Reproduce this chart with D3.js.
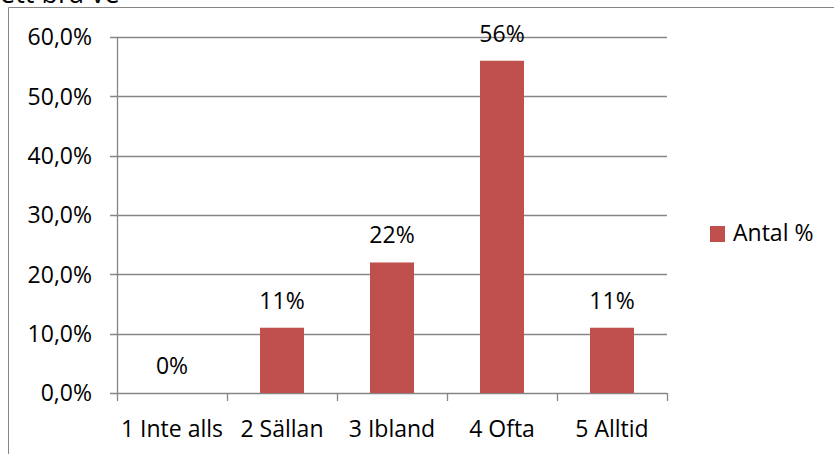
<!DOCTYPE html>
<html>
<head>
<meta charset="utf-8">
<script src="https://cdn.jsdelivr.net/npm/d3@7"></script>
<style>
  html, body { margin: 0; padding: 0; background: #fff; }
  svg { display: block; font-family: "Open Sans", sans-serif; }
</style>
</head>
<body>
<svg id="chart" width="834" height="454"></svg>
<script>
// Response categories and share of answers
const categories = ["1 Inte alls", "2 Sällan", "3 Ibland", "4 Ofta", "5 Alltid"];
const values = [0, 11, 22, 56, 11];
const valueLabels = ["0%", "11%", "22%", "56%", "11%"];
const yTicks = [0, 10, 20, 30, 40, 50, 60];
const seriesName = "Antal %";

const svg = d3.select("#chart");
const barColor = "#C0504D";
const gridColor = "#868686";
const fontSize = 23;

// Heading above the chart frame (partly cut off at the top edge)
svg.append("text")
  .attr("x", 0).attr("y", 3)
  .attr("font-size", 27).attr("fill", "#000")
  .text("ett bra ve");

// Chart frame
svg.append("path")
  .attr("d", "M8.5,454 L8.5,7.5 L834,7.5")
  .attr("fill", "none").attr("stroke", gridColor).attr("stroke-width", 1);

const plot = { left: 117, right: 667, top: 37, bottom: 393 };

const x = d3.scaleBand().domain(categories)
  .range([plot.left, plot.right]).paddingInner(0.6).paddingOuter(0.3);
const xOuter = d3.scaleBand().domain(categories).range([plot.left, plot.right]);
const y = d3.scaleLinear().domain([0, 60]).range([plot.bottom, plot.top]);

const fmt = v => d3.format(".1f")(v).replace(".", ",") + "%";

// Horizontal gridlines
svg.append("g").selectAll("line").data(yTicks).join("line")
  .attr("x1", plot.left - 7).attr("x2", plot.right)
  .attr("y1", d => Math.round(y(d)) + 0.5).attr("y2", d => Math.round(y(d)) + 0.5)
  .attr("stroke", gridColor).attr("stroke-width", 1.3);

// Y axis line
svg.append("line")
  .attr("x1", plot.left + 0.5).attr("x2", plot.left + 0.5)
  .attr("y1", plot.top).attr("y2", plot.bottom)
  .attr("stroke", gridColor).attr("stroke-width", 1.3);

// Y tick labels
svg.append("g").selectAll("text").data(yTicks).join("text")
  .attr("x", 92).attr("y", d => y(d))
  .attr("dy", "0.36em")
  .attr("text-anchor", "end").attr("font-size", fontSize).attr("fill", "#000")
  .text(fmt);

// X axis tick marks at category boundaries
const boundaries = categories.map(c => xOuter(c)).concat([plot.right]);
svg.append("g").selectAll("line").data(boundaries).join("line")
  .attr("x1", d => Math.round(d) + 0.5).attr("x2", d => Math.round(d) + 0.5)
  .attr("y1", plot.bottom).attr("y2", plot.bottom + 8)
  .attr("stroke", gridColor).attr("stroke-width", 1.3);

// Bars
svg.append("g").selectAll("rect").data(values).join("rect")
  .attr("x", (d, i) => x(categories[i]))
  .attr("width", x.bandwidth())
  .attr("y", d => y(d))
  .attr("height", d => y(0) - y(d))
  .attr("fill", barColor);

// Value labels above the bars
svg.append("g").selectAll("text").data(values).join("text")
  .attr("x", (d, i) => xOuter(categories[i]) + xOuter.bandwidth() / 2)
  .attr("y", d => y(d) - 19)
  .attr("text-anchor", "middle").attr("font-size", fontSize).attr("fill", "#000")
  .text((d, i) => valueLabels[i]);

// Category labels
svg.append("g").selectAll("text").data(categories).join("text")
  .attr("x", d => xOuter(d) + xOuter.bandwidth() / 2)
  .attr("y", 437)
  .attr("text-anchor", "middle").attr("font-size", fontSize).attr("fill", "#000")
  .text(d => d);

// Legend
const legend = svg.append("g");
legend.append("rect")
  .attr("x", 710).attr("y", 226).attr("width", 15).attr("height", 16)
  .attr("fill", barColor);
legend.append("text")
  .attr("x", 733).attr("y", 241)
  .attr("font-size", fontSize).attr("fill", "#000")
  .text(seriesName);
</script>
</body>
</html>
